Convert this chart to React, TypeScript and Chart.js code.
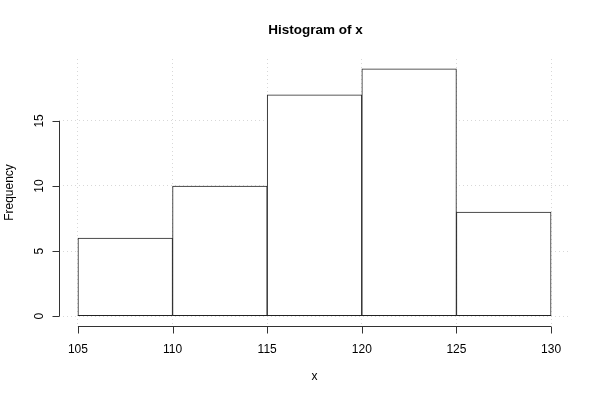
import React, { useEffect, useRef } from "react";
import { Chart, registerables } from "chart.js";

Chart.register(...registerables);

const binStarts = [105, 110, 115, 120, 125];
const binWidth = 5;
const frequencies = [6, 10, 17, 19, 8];
const xTicks = [105, 110, 115, 120, 125, 130];
const yTicks = [0, 5, 10, 15];
const titleText = "Histogram of x";
const xLabel = "x";
const yLabel = "Frequency";

const FONT = '"Liberation Sans", Arial, Helvetica, sans-serif';
const AXIS_COLOR = "#333333";

const rAxesPlugin = {
  id: "rAxes",
  afterDraw(chart: any) {
    const ctx = chart.ctx;
    const xs = chart.scales.x;
    const ys = chart.scales.y;
    const area = chart.chartArea;
    ctx.save();
    ctx.strokeStyle = AXIS_COLOR;
    ctx.lineWidth = 1;
    ctx.fillStyle = "#000";

    // x axis
    const yb = Math.round(area.bottom) + 0.5;
    const x0 = xs.getPixelForValue(xTicks[0]);
    const x1 = xs.getPixelForValue(xTicks[xTicks.length - 1]);
    ctx.beginPath();
    ctx.moveTo(x0, yb);
    ctx.lineTo(x1, yb);
    xTicks.forEach((t) => {
      const px = Math.round(xs.getPixelForValue(t)) + 0.5;
      ctx.moveTo(px, yb);
      ctx.lineTo(px, yb + 7);
    });
    ctx.stroke();
    ctx.font = `12px ${FONT}`;
    ctx.textAlign = "center";
    ctx.textBaseline = "middle";
    xTicks.forEach((t) => {
      ctx.fillText(String(t), xs.getPixelForValue(t), yb + 23);
    });

    // y axis
    const xl = Math.round(area.left) + 0.5;
    const y0 = ys.getPixelForValue(yTicks[0]);
    const y1 = ys.getPixelForValue(yTicks[yTicks.length - 1]);
    ctx.beginPath();
    ctx.moveTo(xl, y0);
    ctx.lineTo(xl, y1);
    yTicks.forEach((t) => {
      const py = Math.round(ys.getPixelForValue(t)) + 0.5;
      ctx.moveTo(xl, py);
      ctx.lineTo(xl - 7, py);
    });
    ctx.stroke();
    yTicks.forEach((t) => {
      ctx.save();
      ctx.translate(xl - 20, ys.getPixelForValue(t));
      ctx.rotate(-Math.PI / 2);
      ctx.fillText(String(t), 0, 0);
      ctx.restore();
    });

    // axis titles
    const cx = (area.left + area.right) / 2;
    const cy = (area.top + area.bottom) / 2;
    ctx.fillText(xLabel, cx, 377);
    ctx.save();
    ctx.translate(10, cy);
    ctx.rotate(-Math.PI / 2);
    ctx.fillText(yLabel, 0, 0);
    ctx.restore();

    // main title
    ctx.font = `bold 13.5px ${FONT}`;
    ctx.fillText(titleText, cx + 1, 30);
    ctx.restore();
  },
};

const gridOpts = {
  display: true,
  offset: false,
  drawTicks: false,
  color: "#d8d8d8",
  lineWidth: 1,
  borderDash: [1, 3],
};
const borderOpts = { display: false, dash: [1, 3] };

export default function App() {
  const canvasRef = useRef<HTMLCanvasElement | null>(null);

  useEffect(() => {
    document.body.style.margin = "0";
    const canvas = canvasRef.current;
    if (!canvas) return;
    const chart = new Chart(canvas, {
      type: "bar",
      data: {
        datasets: [
          {
            data: binStarts.map((s, i) => ({ x: s + binWidth / 2, y: frequencies[i] })),
            backgroundColor: "#ffffff",
            borderColor: "#222222",
            borderWidth: 1,
            borderSkipped: false,
            barPercentage: 1,
            categoryPercentage: 1,
          },
        ],
      },
      options: {
        responsive: false,
        animation: false,
        devicePixelRatio: 1,
        layout: { padding: { left: 59, right: 30, top: 59, bottom: 74 } },
        plugins: {
          legend: { display: false },
          tooltip: { enabled: false },
          title: { display: false },
        },
        scales: {
          x: {
            type: "linear",
            min: 104,
            max: 131,
            offset: false,
            afterBuildTicks: (scale: any) => {
              scale.ticks = xTicks.map((v) => ({ value: v }));
            },
            ticks: { display: false },
            border: borderOpts,
            grid: gridOpts,
          },
          y: {
            type: "linear",
            min: -0.76,
            max: 19.76,
            afterBuildTicks: (scale: any) => {
              scale.ticks = yTicks.map((v) => ({ value: v }));
            },
            ticks: { display: false },
            border: borderOpts,
            grid: gridOpts,
          },
        },
      },
      plugins: [rAxesPlugin],
    } as any);
    return () => chart.destroy();
  }, []);

  return (
    <div style={{ position: "absolute", left: 0, top: 0, width: 600, height: 400, background: "#fff" }}>
      <canvas ref={canvasRef} width={600} height={400} style={{ display: "block" }} />
    </div>
  );
}
